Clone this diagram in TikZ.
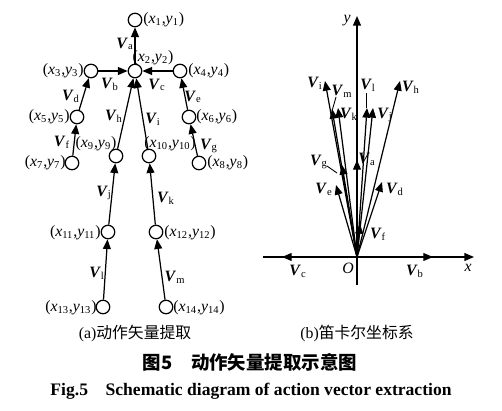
\documentclass[tikz,border=0pt]{standalone}
\usepackage{fontspec}
\setmainfont{Liberation Serif}
\newfontfamily\cjk{Noto Sans CJK SC}
\usetikzlibrary{arrows.meta}
\newcommand{\vlab}[1]{\textbf{\textit{V}}\textsubscript{#1}}
\newcommand{\jlab}[1]{(\textit{x}\textsubscript{#1},\textit{y}\textsubscript{#1})}
\begin{document}
\begin{tikzpicture}[x=0.02cm,y=-0.02cm,
    joint/.style={circle,draw,line width=0.7pt,minimum size=0.27cm,inner sep=0pt},
    vec/.style={line width=0.7pt,-{Triangle[length=5.5pt,width=4.5pt]}},
    lbl/.style={inner sep=0pt,font=\fontsize{9}{10}\selectfont}]
  \useasboundingbox (0,0) rectangle (502,411);

  % (a) joints of the body
  \foreach \n/\x/\y in {1/135/20, 2/135/71, 3/91/71, 4/180/71, 5/77/117, 6/189/117,
      7/72/163, 8/199/163, 9/116/156, 10/149/156, 11/108/232, 12/156/232,
      13/103/307, 14/166/307}
    \node[joint] (n\n) at (\x,\y) {};

  \node[lbl,anchor=west] (p1) at (143,20) {\jlab{1}};
  \node[lbl] (p2) at (153,58) {\jlab{2}};
  \node[lbl,anchor=east] (p3) at (84,71) {\jlab{3}};
  \node[lbl,anchor=west] (p4) at (188,71) {\jlab{4}};
  \node[lbl,anchor=east] (p5) at (70,117) {\jlab{5}};
  \node[lbl,anchor=west] (p6) at (196,117) {\jlab{6}};
  \node[lbl,anchor=east] (p7) at (66,163) {\jlab{7}};
  \node[lbl,anchor=west] (p8) at (207,163) {\jlab{8}};
  \node[lbl] (p9) at (96,144) {\jlab{9}};
  \node[lbl] (p10) at (170,144) {\jlab{10}};
  \node[lbl,anchor=east] (p11) at (101,233) {\jlab{11}};
  \node[lbl,anchor=west] (p12) at (164,233) {\jlab{12}};
  \node[lbl,anchor=east] (p13) at (97,308) {\jlab{13}};
  \node[lbl,anchor=west] (p14) at (173,308) {\jlab{14}};

  \foreach \a/\b in {2/1, 3/2, 4/2, 5/3, 6/4, 7/5, 8/6, 9/2, 10/2, 11/9, 12/10, 13/11, 14/12}
    \draw[vec] (n\a) -- (n\b);

  \node[lbl] (va) at (125,44) {\vlab{a}};
  \node[lbl] (vb) at (110,84) {\vlab{b}};
  \node[lbl] (vc) at (157,85) {\vlab{c}};
  \node[lbl] (vd) at (71,96) {\vlab{d}};
  \node[lbl] (ve) at (193,97) {\vlab{e}};
  \node[lbl] (vf) at (62,142) {\vlab{f}};
  \node[lbl] (vg) at (209,146) {\vlab{g}};
  \node[lbl] (vh) at (114,116) {\vlab{h}};
  \node[lbl] (vi) at (153,119) {\vlab{i}};
  \node[lbl] (vj) at (104,193) {\vlab{j}};
  \node[lbl] (vk) at (166,198) {\vlab{k}};
  \node[lbl] (vl) at (97,273) {\vlab{l}};
  \node[lbl] (vm) at (175,277) {\vlab{m}};

  % (b) all vectors moved to the origin
  \coordinate (O) at (357,257);
  \coordinate (xl) at (263,257);
  \coordinate (xr) at (474,257);
  \coordinate (yb) at (357,285);
  \coordinate (yt) at (357,16);
  \draw[line width=0.8pt] (xl) -- (O);
  \draw[vec,line width=0.8pt] (O) -- (xr);
  \draw[line width=0.8pt] (yb) -- (O);
  \draw[vec,line width=0.8pt] (O) -- (yt);

  \foreach \n/\x/\y in {a/357/160, b/433/257, c/282/257, d/382/182, e/336/185,
      f/360/224, g/342/165, h/400/81, i/325/81, j/373/108, k/338/108,
      l/367/108, m/332/109}
    \coordinate (t\n) at (\x,\y);
  \foreach \n in {a,b,c,d,e,f,g,h,i,j,k,l,m}
    \draw[vec] (O) -- (t\n);

  \node[lbl,font=\itshape\fontsize{9}{10}\selectfont] (ylab) at (347,21) {y};
  \node[lbl,font=\itshape\fontsize{9}{10}\selectfont] (xlab) at (468,268) {x};
  \node[lbl,font=\itshape\fontsize{9}{10}\selectfont] (olab) at (348,268) {O};
  \node[lbl] (wi) at (315,83) {\vlab{i}};
  \node[lbl] (wm) at (342,91) {\vlab{m}};
  \node[lbl] (wk) at (349,114) {\vlab{k}};
  \node[lbl] (wl) at (368,85) {\vlab{l}};
  \node[lbl] (wj) at (385,115) {\vlab{j}};
  \node[lbl] (wh) at (411,87) {\vlab{h}};
  \node[lbl] (wa) at (367,159) {\vlab{a}};
  \node[lbl] (wg) at (319,162) {\vlab{g}};
  \node[lbl] (we) at (324,189) {\vlab{e}};
  \node[lbl] (wd) at (395,189) {\vlab{d}};
  \node[lbl] (wf) at (378,234) {\vlab{f}};
  \node[lbl] (wc) at (298,271) {\vlab{c}};
  \node[lbl] (wb) at (415,271) {\vlab{b}};
  % leader lines
  \coordinate (mm) at (336,97);
  \coordinate (ll) at (366,93);
  \coordinate (gg) at (327,166);
  \draw[line width=0.5pt] (mm) -- (332,111);
  \draw[line width=0.5pt] (ll) -- (366,108);
  \draw[line width=0.5pt] (gg) -- (337,173);

  % captions
  \node[inner sep=0pt,font=\fontsize{9}{10}\selectfont] (capa) at (135,333) {(a){\cjk 动作矢量提取}};
  \node[inner sep=0pt,font=\fontsize{9}{10}\selectfont] (capb) at (357,333) {(b){\cjk 笛卡尔坐标系}};
  \node[inner sep=0pt,font=\fontsize{10.5}{12}\selectfont] (capcn) at (250,362) {\cjk\bfseries 图5\quad 动作矢量提取示意图};
  \node[inner sep=0pt,font=\bfseries\fontsize{10}{12}\selectfont] (capen) at (251,391) {Fig.5\quad Schematic diagram of action vector extraction};
\end{tikzpicture}
\end{document}
